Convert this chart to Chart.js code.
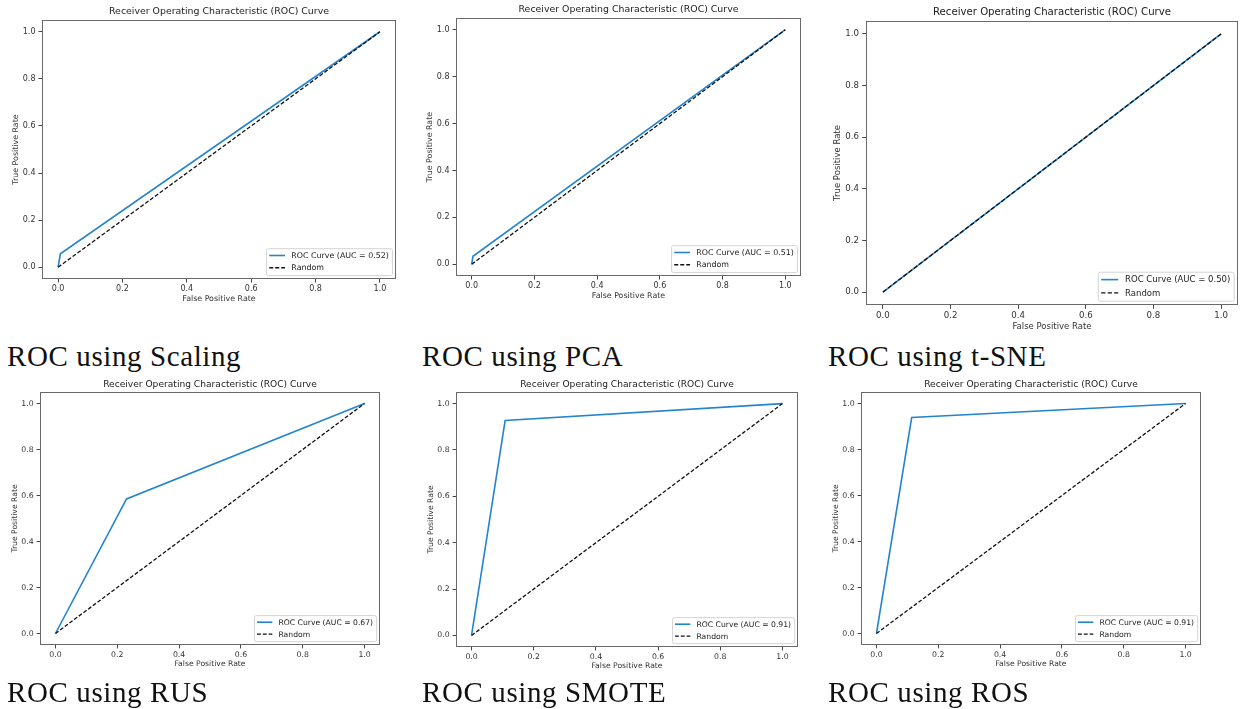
<!DOCTYPE html>
<html>
<head>
<meta charset="utf-8">
<script src="https://cdn.jsdelivr.net/npm/chart.js@4"></script>
<style>
    html, body { margin: 0; padding: 0; background: #fff; }
    body { width: 1252px; height: 709px; position: relative; overflow: hidden; }
    canvas { position: absolute; }
    .caption {
        position: absolute;
        font-family: "Liberation Serif", "DejaVu Serif", serif;
        font-size: 29px;
        letter-spacing: 0.6px;
        color: #111;
        line-height: 1;
        white-space: nowrap;
    }
</style>
</head>
<body>
<script>
// chart data
const panelNames = ['Scaling', 'PCA', 't-SNE', 'RUS', 'SMOTE', 'ROS'];
const aucValues = [0.52, 0.51, 0.50, 0.67, 0.91, 0.91];
const rocFpr = [[0, 0.007, 1], [0, 0.004, 1], [0, 1], [0, 0.23, 1], [0, 0.108, 1], [0, 0.114, 1]];
const rocTpr = [[0, 0.057, 1], [0, 0.034, 1], [0, 1], [0, 0.585, 1], [0, 0.927, 1], [0, 0.939, 1]];
const randomFpr = [0, 1];
const randomTpr = [0, 1];
const tickValues = [0, 0.2, 0.4, 0.6, 0.8, 1.0];

const chartTitle = 'Receiver Operating Characteristic (ROC) Curve';
const xLabel = 'False Positive Rate';
const yLabel = 'True Positive Rate';

// where each axes box sits on the page (l, t, r, b) and a font scale
const panelBoxes = [
    { l: 42,  t: 20,  r: 396,  b: 279, s: 1 },
    { l: 456, t: 18,  r: 801,  b: 276, s: 1 },
    { l: 866, t: 21,  r: 1238, b: 305, s: 1.08 },
    { l: 40,  t: 392, r: 380,  b: 645, s: 0.97 },
    { l: 456, t: 392, r: 798,  b: 647, s: 0.97 },
    { l: 861, t: 392, r: 1201, b: 645, s: 0.97 }
];
const captionSpots = [
    { x: 7, y: 342 }, { x: 422, y: 342 }, { x: 828, y: 342 },
    { x: 7, y: 678 }, { x: 422, y: 678 }, { x: 828, y: 678 }
];

const blue = '#2384d0';
const fontFamily = "'DejaVu Sans', sans-serif";

// frame round the plot area (all four spines)
const framePlugin = {
    id: 'frame',
    afterDatasetsDraw(chart) {
        const a = chart.chartArea;
        const ctx = chart.ctx;
        ctx.save();
        ctx.strokeStyle = '#6a6a6a';
        ctx.lineWidth = 1;
        ctx.strokeRect(Math.round(a.left) + 0.5, Math.round(a.top) + 0.5,
            Math.round(a.right - a.left) - 1, Math.round(a.bottom - a.top) - 1);
        ctx.restore();
    }
};

// title above the axes
const titlePlugin = {
    id: 'axTitle',
    afterDraw(chart, args, opts) {
        const a = chart.chartArea;
        const ctx = chart.ctx;
        ctx.save();
        ctx.font = `${opts.size}px ${fontFamily}`;
        ctx.fillStyle = '#222';
        ctx.textAlign = 'center';
        ctx.textBaseline = 'middle';
        ctx.fillText(opts.text, (a.left + a.right) / 2, a.top - opts.gap);
        ctx.restore();
    }
};

// matplotlib-like legend in the lower right corner
const cornerLegend = {
    id: 'cornerLegend',
    afterDraw(chart, args, opts) {
        const a = chart.chartArea;
        const ctx = chart.ctx;
        const em = opts.size;
        const sets = chart.data.datasets;
        ctx.save();
        ctx.font = `${em}px ${fontFamily}`;
        let textW = 0;
        sets.forEach(ds => { textW = Math.max(textW, ctx.measureText(ds.label).width); });
        const rowH = 1.05 * em;
        const w = 0.4 * em + 2 * em + 0.8 * em + textW + 0.4 * em;
        const h = 0.8 * em + sets.length * rowH + (sets.length - 1) * 0.5 * em;
        const x0 = a.right - 0.5 * em - w;
        const y0 = a.bottom - 0.5 * em - h;

        ctx.fillStyle = 'rgba(255,255,255,0.85)';
        ctx.strokeStyle = '#d4d4d4';
        ctx.lineWidth = 1;
        ctx.beginPath();
        ctx.roundRect(x0 + 0.5, y0 + 0.5, w, h, 2);
        ctx.fill();
        ctx.stroke();

        sets.forEach((ds, i) => {
            const cy = y0 + 0.4 * em + i * (rowH + 0.5 * em) + rowH / 2;
            const hx = x0 + 0.4 * em;
            ctx.strokeStyle = ds.borderColor;
            ctx.lineWidth = ds.borderWidth;
            ctx.setLineDash(ds.borderDash || []);
            ctx.beginPath();
            ctx.moveTo(hx, cy);
            ctx.lineTo(hx + 2 * em, cy);
            ctx.stroke();
            ctx.setLineDash([]);
            ctx.fillStyle = '#222';
            ctx.textAlign = 'left';
            ctx.textBaseline = 'middle';
            ctx.fillText(ds.label, hx + 2.8 * em, cy + 0.5);
        });
        ctx.restore();
    }
};

function toPoints(xs, ys) {
    return xs.map((x, i) => ({ x: x, y: ys[i] }));
}

function drawPanel(i) {
    const box = panelBoxes[i];
    const s = box.s;
    const cx = Math.max(0, box.l - 42);
    const cy = box.t - 20;
    const cw = box.r - cx + 8;
    const ch = box.b + 34 - cy;

    const tickSize = 8 * s;
    const labelSize = 7.9 * s;
    const labelLH = labelSize * 1.2;

    const canvas = document.createElement('canvas');
    canvas.width = cw;
    canvas.height = ch;
    canvas.style.left = cx + 'px';
    canvas.style.top = cy + 'px';
    canvas.style.width = cw + 'px';
    canvas.style.height = ch + 'px';
    document.body.appendChild(canvas);

    const axisCommon = {
        type: 'linear',
        min: -0.05,
        max: 1.05,
        afterBuildTicks: scale => { scale.ticks = tickValues.map(v => ({ value: v })); },
        ticks: {
            callback: v => Number(v).toFixed(1),
            color: '#333',
            font: { family: fontFamily, size: tickSize },
            autoSkip: false,
            maxRotation: 0
        },
        grid: {
            drawOnChartArea: false,
            drawTicks: true,
            tickLength: 3.5 * s,
            tickColor: '#444',
            tickWidth: 1
        },
        border: { display: false }
    };

    new Chart(canvas.getContext('2d'), {
        type: 'scatter',
        data: {
            datasets: [
                {
                    label: `ROC Curve (AUC = ${aucValues[i].toFixed(2)})`,
                    data: toPoints(rocFpr[i], rocTpr[i]),
                    showLine: true,
                    borderColor: blue,
                    backgroundColor: blue,
                    borderWidth: 1.6,
                    pointRadius: 0,
                    order: 1
                },
                {
                    label: 'Random',
                    data: toPoints(randomFpr, randomTpr),
                    showLine: true,
                    borderColor: '#111',
                    backgroundColor: '#111',
                    borderWidth: 1.3,
                    borderDash: [4 * s, 2 * s],
                    pointRadius: 0,
                    order: 0
                }
            ]
        },
        options: {
            responsive: false,
            animation: false,
            devicePixelRatio: 1,
            layout: {
                padding: { left: 0, top: box.t - cy, right: cx + cw - box.r, bottom: 0 }
            },
            plugins: {
                legend: { display: false },
                tooltip: { enabled: false },
                axTitle: { text: chartTitle, size: 9.4 * s, gap: 8 * s },
                cornerLegend: { size: 7.9 * s }
            },
            scales: {
                x: Object.assign({}, axisCommon, {
                    position: 'bottom',
                    ticks: Object.assign({}, axisCommon.ticks, { padding: 1.5 * s }),
                    title: {
                        display: true,
                        text: xLabel,
                        color: '#333',
                        font: { family: fontFamily, size: labelSize, lineHeight: 1.2 },
                        padding: { top: 0, bottom: (cy + ch - box.b) - 20 * s - labelLH / 2 }
                    },
                    afterFit: scale => { scale.height = cy + ch - box.b; }
                }),
                y: Object.assign({}, axisCommon, {
                    position: 'left',
                    ticks: Object.assign({}, axisCommon.ticks, { padding: 3 * s }),
                    title: {
                        display: true,
                        text: yLabel,
                        color: '#333',
                        font: { family: fontFamily, size: labelSize, lineHeight: 1.2 },
                        padding: { top: (box.l - cx) - 26 * s - labelLH / 2, bottom: 0 }
                    },
                    afterFit: scale => { scale.width = box.l - cx; }
                })
            }
        },
        plugins: [framePlugin, titlePlugin, cornerLegend]
    });

    const cap = document.createElement('div');
    cap.className = 'caption';
    cap.textContent = `ROC using ${panelNames[i]}`;
    cap.style.left = captionSpots[i].x + 'px';
    cap.style.top = captionSpots[i].y + 'px';
    document.body.appendChild(cap);
}

panelNames.forEach((name, i) => drawPanel(i));
</script>
</body>
</html>
